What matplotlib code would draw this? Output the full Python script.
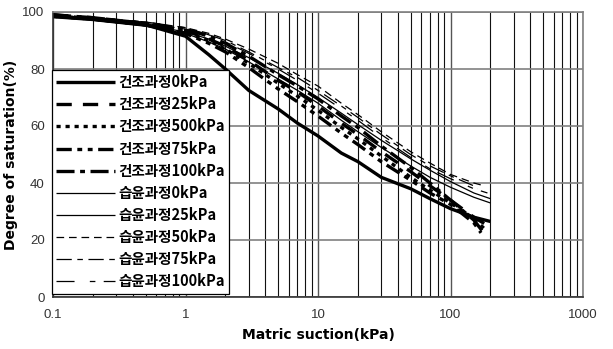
import matplotlib
matplotlib.use("Agg")
import matplotlib.pyplot as plt
from matplotlib.ticker import LogLocator, NullFormatter

plt.rcParams['lines.scale_dashes'] = False

suction = [0.1, 0.2, 0.5, 1, 1.5, 2, 3, 5, 7, 10, 15, 20, 30, 50, 70, 100, 150, 200]

dry_0 = [98.5, 97.5, 95.5, 91.5, 85, 80, 72.5, 66, 61, 56.5, 50.5, 47.5, 42, 38, 34.5, 31, 28, 26.5]
dry_25 = [99, 98, 96, 93.5, 90.5, 88, 83, 76, 72, 67, 61, 57, 51, 44, 39, 34, 28, 24.5]
dry_500 = [98.5, 97.5, 95.5, 93, 90, 87, 82, 75, 70.5, 65.5, 59.5, 55.5, 49.5, 42, 37.5, 33, 27.5, 24]
dry_75 = [99, 97.5, 95.5, 92.5, 89, 86, 80.5, 73, 68.5, 63.5, 57.5, 53.5, 47.5, 41, 36.5, 32.5, 26, 22.5]
dry_100 = [99, 98, 96, 94, 91.5, 89, 84.5, 78, 74, 69.5, 63.5, 59.5, 53, 45.5, 40, 34, 27, 23]
wet_0 = [98, 97, 95, 92.5, 89.5, 87, 82.5, 76.5, 72.5, 68, 62, 58, 52.5, 46, 42, 38.5, 35, 33]
wet_25 = [98.5, 97.5, 95.5, 93, 90.5, 88, 84, 78.5, 74.5, 70, 64.5, 60.5, 55, 48.5, 44.5, 40.5, 36.5, 34.5]
wet_50 = [99, 98, 96.5, 94.5, 92.5, 90.5, 87, 82, 78, 74, 68, 64, 58, 51, 47, 43, 40, 39]
wet_75 = [99, 98, 96, 94, 92, 90, 86, 80.5, 77, 72.5, 67, 63, 57, 50, 46, 42.5, 39, 38]
wet_100 = [99, 98, 96.5, 94.5, 92, 89.5, 85.5, 80, 76, 71.5, 66, 62, 56, 49, 45, 41.5, 38, 36.5]

# last suction value reached by each curve
end_suction = [200, 200, 180, 170, 175, 200, 200, 180, 160, 190]

labels = ['건조과정0kPa', '건조과정25kPa', '건조과정500kPa', '건조과정75kPa', '건조과정100kPa',
          '습윤과정0kPa', '습윤과정25kPa', '습윤과정50kPa', '습윤과정75kPa', '습윤과정100kPa']
series = [dry_0, dry_25, dry_500, dry_75, dry_100, wet_0, wet_25, wet_50, wet_75, wet_100]

styles = [
    dict(lw=2.4, ls='-'),
    dict(lw=2.4, ls=(0, (11, 8))),
    dict(lw=2.4, ls=(0, (3, 3.5))),
    dict(lw=2.4, ls=(0, (11, 4, 3.5, 4, 3.5, 4))),
    dict(lw=2.4, ls=(0, (13, 4, 3.5, 4))),
    dict(lw=0.9, ls='-'),
    dict(lw=0.9, ls='-'),
    dict(lw=0.9, ls=(0, (5.5, 3.5))),
    dict(lw=0.9, ls=(0, (11, 4, 4, 4))),
    dict(lw=0.9, ls=(0, (13, 11, 4, 6))),
]

fig = plt.figure(figsize=(6.13, 3.49), dpi=100)
ax = fig.add_axes([53/613, 1-297/349, 530/613, 285/349])

for vals, lab, st, end in zip(series, labels, styles, end_suction):
    xs = list(suction[:-1]) + [end]
    ax.plot(xs, vals, color='black', label=lab, solid_capstyle='butt',
            dash_capstyle='butt', **st)

ax.set_xscale('log')
ax.set_xlim(0.1, 1000)
ax.set_ylim(0, 100)
ax.set_xticks([0.1, 1, 10, 100, 1000])
ax.set_xticklabels(['0.1', '1', '10', '100', '1000'])
ax.xaxis.set_minor_locator(LogLocator(base=10, subs=range(2, 10)))
ax.xaxis.set_minor_formatter(NullFormatter())
ax.set_yticks([0, 20, 40, 60, 80, 100])

ax.grid(True, which='major', axis='x', color='#555555', lw=1.0)
ax.grid(True, which='minor', axis='x', color='#111111', lw=0.8)
ax.grid(True, which='major', axis='y', color='#808080', lw=1.2)
ax.set_axisbelow(True)
ax.tick_params(axis='x', which='both', length=0, pad=9, labelsize=9.5, labelcolor='#333333')
ax.tick_params(axis='y', which='both', length=0, pad=6, labelsize=9.5, labelcolor='#333333')
for lab in ax.get_xticklabels() + ax.get_yticklabels():
    lab.set_family(['Liberation Sans', 'DejaVu Sans'])

for side in ['top', 'right']:
    ax.spines[side].set_color('#808080')
    ax.spines[side].set_linewidth(1.2)
for side in ['left', 'bottom']:
    ax.spines[side].set_color('#333333')
    ax.spines[side].set_linewidth(1.2)

ax.set_xlabel('Matric suction(kPa)', fontsize=10, fontweight='bold',
              family=['DejaVu Sans'], labelpad=5)
ax.set_ylabel('Degree of saturation(%)', fontsize=10, fontweight='bold',
              family=['DejaVu Sans'], labelpad=3)

leg = ax.legend(loc='upper left', bbox_to_anchor=(-0.002, 0.797), borderaxespad=0,
                prop=dict(family=['Noto Sans CJK KR', 'DejaVu Sans'], weight='bold', size=10.5),
                frameon=True, fancybox=False, edgecolor='black', framealpha=1,
                handlelength=4.0, handletextpad=0.25, labelspacing=0.42,
                borderpad=0.3)
leg.get_frame().set_linewidth(0.9)

fig.savefig('out.png', dpi=100)
